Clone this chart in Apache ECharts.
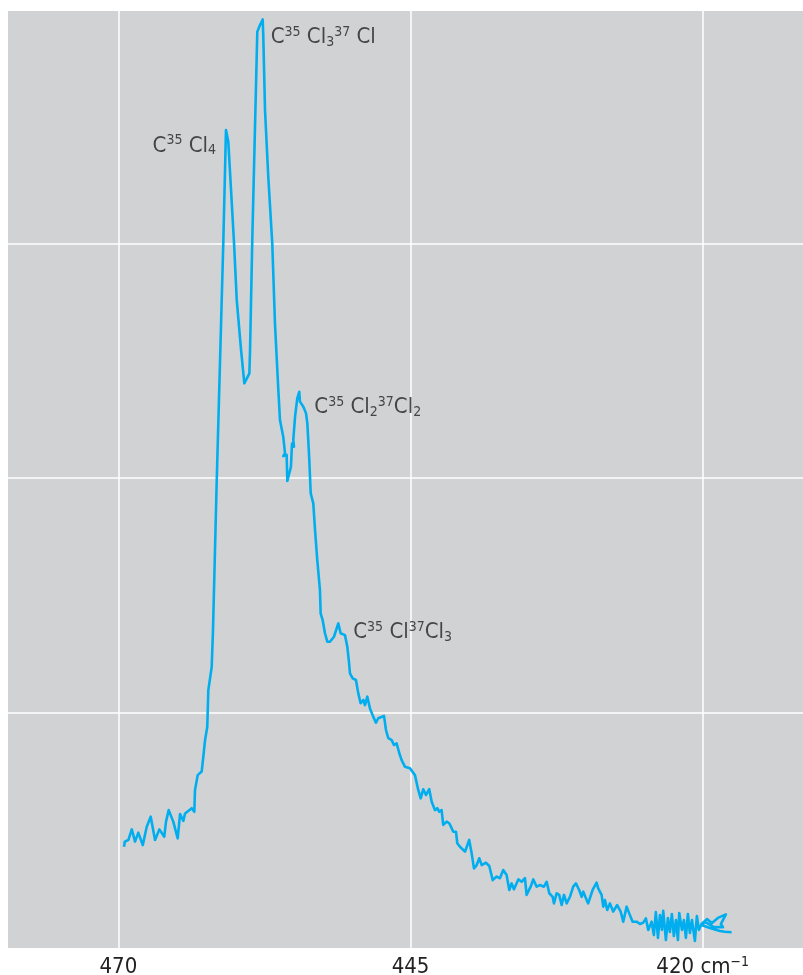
<!DOCTYPE html>
<html>
<head>
<meta charset="utf-8">
<script src="https://cdn.jsdelivr.net/npm/echarts@6/dist/echarts.min.js"></script>
<style>
  html, body { margin: 0; padding: 0; background: #ffffff; }
  #chart { width: 803px; height: 975px; }
</style>
</head>
<body>
<div id="chart"></div>
<script>
// Wavenumber (cm-1) of each traced point, in trace order
const wavenumber = [
469.51,469.45,469.14,468.85,468.57,468.29,467.91,467.57,467.23,466.86,
466.49,466.07,465.92,465.69,465.30,464.92,464.72,464.44,464.29,463.72,
463.50,463.44,463.21,462.87,462.73,462.58,462.39,462.30,462.01,461.90,
461.58,461.02,460.79,460.59,460.10,459.87,459.50,459.22,459.08,458.79,
458.73,458.54,458.11,457.88,457.65,457.60,457.45,457.17,456.83,456.60,
456.31,456.17,455.89,455.74,455.89,455.60,455.54,455.37,455.23,455.14,
454.97,455.03,454.88,454.69,454.52,454.46,454.17,453.94,453.83,453.75,
453.66,453.54,453.32,453.17,452.98,452.75,452.69,452.52,452.32,452.12,
451.89,451.55,451.18,450.98,450.61,450.41,450.27,450.18,449.95,449.67,
449.47,449.27,449.04,448.90,448.70,448.47,448.19,447.96,447.76,447.27,
447.10,446.90,446.61,446.42,446.19,445.96,445.76,445.48,445.05,444.62,
444.34,444.13,443.91,443.68,443.40,443.19,443.05,442.91,442.71,442.54,
442.34,442.20,441.91,441.69,441.48,441.34,441.11,441.00,440.77,440.34,
439.98,439.77,439.57,439.34,439.12,438.91,438.55,438.26,437.97,437.63,
437.35,437.07,436.78,436.55,436.35,436.15,435.78,435.49,435.21,435.07,
434.72,434.50,434.21,433.93,433.59,433.35,433.13,432.84,432.73,432.50,
432.28,432.07,431.87,431.64,431.36,431.08,430.85,430.57,430.36,430.22,
429.93,429.80,429.42,429.08,428.94,428.65,428.51,428.37,428.17,427.94,
427.66,427.32,427.02,426.80,426.51,426.23,426.00,425.66,425.37,425.09,
424.86,424.66,424.37,
424.18,424.01,423.83,423.66,423.49,423.38,423.15,422.98,422.81,422.64,
422.47,422.29,422.12,422.01,421.78,421.61,421.44,421.27,421.10,420.92,
420.67,420.50,420.33,420.10,
419.64,419.21,418.70,418.02,418.45,418.27,419.04,419.81,420.10,419.38,
418.53,418.10,417.53
];

// Signal intensity (arbitrary units, grid step = 1) of each traced point
const intensity = [
0.431,0.453,0.460,0.505,0.453,0.491,0.438,0.516,0.559,0.460,
0.505,0.474,0.538,0.587,0.538,0.467,0.570,0.541,0.573,0.595,
0.580,0.673,0.736,0.751,0.814,0.885,0.942,1.098,1.197,1.354,
1.992,3.001,3.482,3.432,3.001,2.759,2.546,2.404,2.411,2.446,
2.546,3.014,3.901,3.929,3.953,3.887,3.567,3.283,3.000,2.661,
2.375,2.248,2.177,2.107,2.094,2.099,1.988,1.992,2.049,2.148,
2.134,2.163,2.262,2.340,2.368,2.326,2.304,2.276,2.234,2.163,
2.077,1.936,1.893,1.779,1.652,1.524,1.425,1.396,1.340,1.304,
1.304,1.325,1.382,1.340,1.332,1.283,1.219,1.169,1.148,1.141,
1.084,1.042,1.056,1.034,1.070,1.020,0.985,0.959,0.978,0.988,
0.928,0.893,0.885,0.864,0.871,0.829,0.800,0.772,0.765,0.736,
0.673,0.637,0.676,0.651,0.676,0.623,0.630,0.587,0.595,0.580,
0.587,0.524,0.538,0.531,0.510,0.495,0.495,0.446,0.431,0.410,
0.460,0.403,0.339,0.353,0.382,0.353,0.363,0.349,0.289,0.304,
0.297,0.332,0.311,0.247,0.275,0.250,0.292,0.282,0.297,0.226,
0.261,0.292,0.261,0.268,0.261,0.282,0.233,0.218,0.190,0.233,
0.226,0.183,0.226,0.190,0.218,0.261,0.275,0.247,0.218,0.240,
0.204,0.190,0.247,0.278,0.254,0.226,0.176,0.204,0.162,0.190,
0.155,0.183,0.155,0.112,0.176,0.140,0.112,0.112,0.102,0.108,
0.126,0.077,0.112,
0.055,0.153,0.043,0.140,0.077,0.158,0.034,0.128,0.068,0.145,
0.051,0.119,0.034,0.149,0.077,0.119,0.043,0.145,0.064,0.119,
0.030,0.136,0.077,0.102,
0.123,0.106,0.128,0.143,0.102,0.089,0.089,0.111,0.098,0.085,
0.072,0.069,0.067
];

// Axis ticks
const xTickValues = [470, 445, 420];
const xTickLabels = ['470', '445', '420'];
const xUnit = 'cm';
const xUnitSup = '\u22121';
const yGridValues = [1, 2, 3];

// Peak annotations
const peakLabels = [
  'C{sup|35} Cl{sub|4}',
  'C{sup|35} Cl{sub|3}{sup|37} Cl',
  'C{sup|35} Cl{sub|2}{sup|37}Cl{sub|2}',
  'C{sup|35} Cl{sup|37}Cl{sub|3}'
];
const peakLabelX = [461.64, 456.96, 453.23, 449.90];
const peakLabelY = [3.415, 3.877, 2.300, 1.342];
const peakLabelAlign = ['right', 'left', 'left', 'left'];

const FONT = "'Liberation Sans Narrow', 'DejaVu Sans Condensed', 'Roboto', sans-serif";
const TEXT = '#222222';

const curve = [];
const n = Math.min(wavenumber.length, intensity.length);
for (let i = 0; i < n; i++) curve.push([wavenumber[i], intensity[i]]);

const chart = echarts.init(document.getElementById('chart'), null, { renderer: 'canvas' });

const option = {
  backgroundColor: '#ffffff',
  animation: false,
  grid: {
    left: 8, right: 0, top: 11, bottom: 27,
    outerBoundsMode: 'none',
    containLabel: false,
    show: true, backgroundColor: '#d1d2d4', borderWidth: 0
  },
  xAxis: {
    type: 'value',
    inverse: true,
    min: 411.42,
    max: 479.44,
    axisLine: { show: false },
    axisTick: { show: false },
    splitLine: { show: false },
    axisLabel: {
      customValues: xTickValues,
      margin: 7,
      color: TEXT,
      fontSize: 22,
      lineHeight: 24,
      fontFamily: FONT,
      formatter: function (v) {
        const i = xTickValues.indexOf(v);
        const t = i >= 0 ? xTickLabels[i] : String(v);
        return i === xTickValues.length - 1 ? t + ' ' + xUnit + '{sup|' + xUnitSup + '}' : t;
      },
      rich: {
        sup: { fontSize: 14, lineHeight: 14, padding: [0, 0, 10, 0], color: TEXT, fontFamily: FONT }
      }
    }
  },
  yAxis: {
    type: 'value',
    min: 0,
    max: 3.989,
    show: false,
    splitLine: { show: false }
  },
  series: [
    {
      type: 'line',
      data: [],
      silent: true,
      markLine: {
        silent: true,
        z: 1,
        symbol: ['none', 'none'],
        label: { show: false },
        lineStyle: { color: '#ffffff', width: 1.5, type: 'solid' },
        emphasis: { disabled: true },
        data: xTickValues.map(v => ({ xAxis: v })).concat(yGridValues.map(v => ({ yAxis: v })))
      }
    },
    {
      type: 'line',
      z: 3,
      data: curve,
      showSymbol: false,
      smooth: false,
      silent: true,
      lineStyle: { color: '#00aeef', width: 2.6, join: 'round' }
    },
    {
      type: 'scatter',
      z: 4,
      symbolSize: 0,
      silent: true,
      data: peakLabels.map((t, i) => ({
        value: [peakLabelX[i], peakLabelY[i]],
        label: { formatter: t, align: peakLabelAlign[i] }
      })),
      label: {
        show: true,
        position: [0, 0],
        verticalAlign: 'middle',
        color: TEXT,
        fontSize: 22,
        lineHeight: 28,
        fontFamily: FONT,
        rich: {
          sup: { fontSize: 14, lineHeight: 18, padding: [0, 0, 10, 0], color: TEXT, fontFamily: FONT },
          sub: { fontSize: 14, lineHeight: 18, padding: [10, 0, 0, 0], color: TEXT, fontFamily: FONT }
        }
      }
    }
  ]
};

chart.setOption(option);
</script>
</body>
</html>
